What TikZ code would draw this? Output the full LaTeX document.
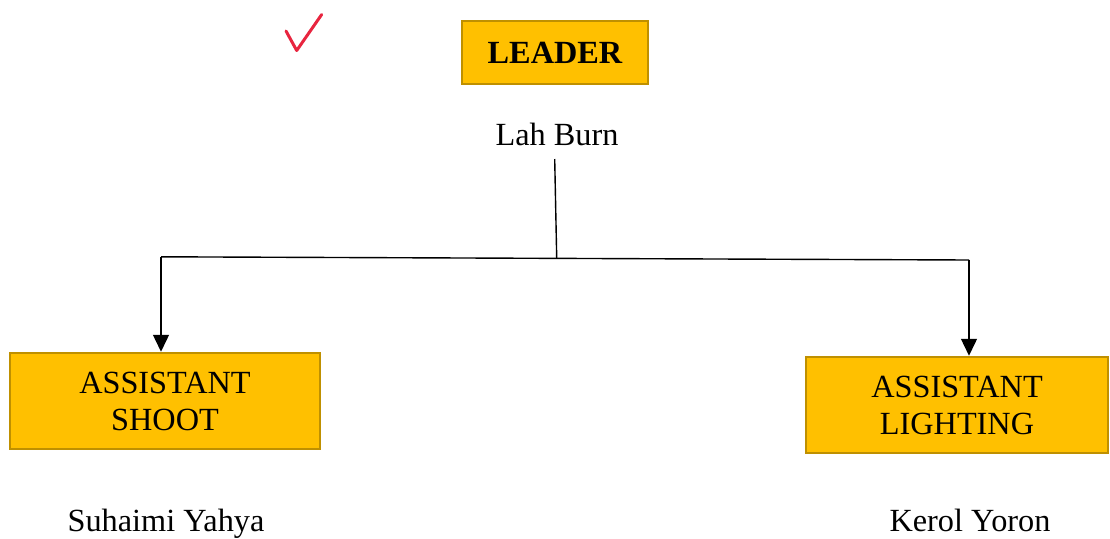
\documentclass[tikz,border=0pt]{standalone}
\usepackage{fontspec}
\setmainfont{Liberation Serif}
\usetikzlibrary{arrows.meta}
\definecolor{boxfill}{HTML}{FFC000}
\definecolor{boxline}{HTML}{BF9000}
\definecolor{tickred}{HTML}{E8253F}
\tikzset{
  rolebox/.style={draw=boxline, fill=boxfill, line width=2.5pt, align=center,
    inner sep=0pt, font=\fontsize{32.3}{37}\selectfont},
  namelabel/.style={anchor=base, inner sep=0pt, font=\fontsize{32.3}{37}\selectfont},
  link/.style={line width=1.4pt, black},
  arrowlink/.style={link, -{Triangle[width=16pt,length=17pt]}}
}
\begin{document}
\begin{tikzpicture}[x=1pt,y=-1pt]
  \useasboundingbox (0,0) rectangle (1110,538);

  % tick mark
  \draw[tickred, line width=3pt, line cap=round, line join=round]
    (286,31) -- (296.7,50.5) -- (321.7,14.5);

  % leader
  \node[rolebox, minimum width=186pt, minimum height=63pt, font=\fontsize{32.3}{37}\selectfont\bfseries]
    (leader) at (555,52.5) {LEADER};
  \node[namelabel] (burn) at (557,145) {Lah Burn};

  % assistants
  \node[rolebox, minimum width=310pt, minimum height=96pt] (shoot) at (165,401) {ASSISTANT\\SHOOT};
  \node[rolebox, minimum width=302pt, minimum height=96pt] (light) at (957,405) {ASSISTANT\\LIGHTING};
  \node[namelabel] (suhaimi) at (166,531) {Suhaimi Yahya};
  \node[namelabel] (kerol) at (970,531) {Kerol Yoron};

  % connectors
  \coordinate (stem) at (554.7,159);
  \coordinate (join) at (556.7,258);
  \coordinate (lc) at (161,256.8);
  \coordinate (rc) at (969,260);
  \draw[link] (stem) -- (join);
  \draw[link] (lc) -- (rc);
  \draw[arrowlink] (lc) -- (lc |- shoot.north);
  \draw[arrowlink] (rc) -- (rc |- light.north);
\end{tikzpicture}
\end{document}
